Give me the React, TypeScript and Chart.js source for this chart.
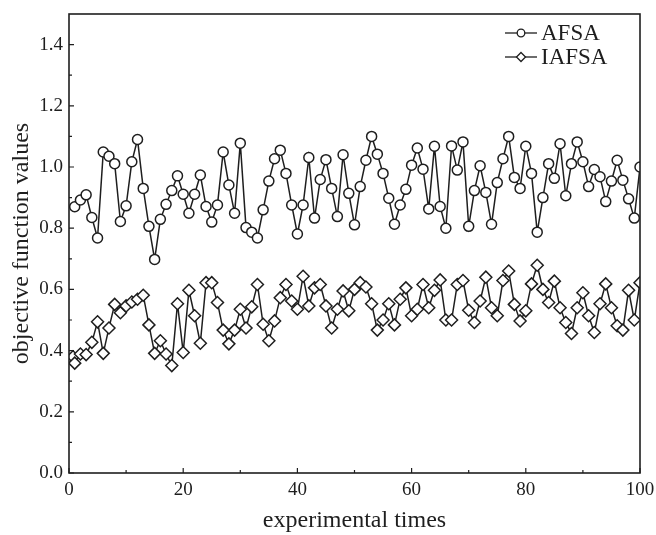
import React, { useEffect, useRef } from 'react';
import { Chart, registerables } from 'chart.js';

Chart.register(...registerables);

// ---------- data ----------
const runs = Array.from({ length: 100 }, (_, i) => i + 1);

const afsaValues = [
  0.870, 0.892, 0.909, 0.835, 0.768, 1.049, 1.035, 1.011, 0.822, 0.873,
  1.017, 1.090, 0.930, 0.806, 0.698, 0.829, 0.878, 0.923, 0.971, 0.911,
  0.849, 0.911, 0.974, 0.871, 0.820, 0.876, 1.049, 0.941, 0.849, 1.078,
  0.802, 0.787, 0.768, 0.860, 0.954, 1.027, 1.055, 0.979, 0.876, 0.781,
  0.876, 1.031, 0.833, 0.959, 1.024, 0.930, 0.838, 1.040, 0.914, 0.811,
  0.936, 1.022, 1.100, 1.042, 0.979, 0.898, 0.813, 0.876, 0.927, 1.006,
  1.062, 0.993, 0.863, 1.068, 0.871, 0.800, 1.069, 0.990, 1.082, 0.806,
  0.923, 1.004, 0.917, 0.813, 0.949, 1.027, 1.100, 0.966, 0.930, 1.068,
  0.979, 0.787, 0.900, 1.011, 0.963, 1.076, 0.906, 1.011, 1.082, 1.017,
  0.936, 0.992, 0.968, 0.887, 0.954, 1.022, 0.957, 0.896, 0.833, 1.000,
];

const iafsaLead = { x: 0.7, y: 0.38 };
const iafsaValues = [
  0.359, 0.389, 0.387, 0.427, 0.494, 0.391, 0.474, 0.551, 0.524, 0.546,
  0.559, 0.568, 0.581, 0.484, 0.391, 0.432, 0.389, 0.351, 0.553, 0.394,
  0.597, 0.514, 0.424, 0.622, 0.622, 0.557, 0.467, 0.422, 0.467, 0.535,
  0.474, 0.543, 0.616, 0.486, 0.432, 0.497, 0.573, 0.616, 0.562, 0.535,
  0.643, 0.546, 0.605, 0.616, 0.546, 0.474, 0.535, 0.595, 0.530, 0.600,
  0.622, 0.608, 0.553, 0.467, 0.500, 0.553, 0.484, 0.568, 0.605, 0.514,
  0.535, 0.616, 0.540, 0.597, 0.631, 0.500, 0.500, 0.616, 0.629, 0.532,
  0.492, 0.562, 0.640, 0.540, 0.514, 0.629, 0.660, 0.551, 0.497, 0.530,
  0.618, 0.679, 0.600, 0.557, 0.627, 0.540, 0.492, 0.456, 0.540, 0.589,
  0.514, 0.459, 0.553, 0.618, 0.540, 0.481, 0.467, 0.597, 0.500, 0.622,
];

const seriesNames = ['AFSA', 'IAFSA'];
const xTicks = [0, 20, 40, 60, 80, 100];
const xMinorTicks = [10, 30, 50, 70, 90];
const yTicks = [0, 0.2, 0.4, 0.6, 0.8, 1.0, 1.2, 1.4];
const yMinorTicks = [0.1, 0.3, 0.5, 0.7, 0.9, 1.1, 1.3];
const xTitle = 'experimental times';
const yTitle = 'objective function values';

// ---------- style ----------
const FONT = '"Liberation Serif", "Times New Roman", serif';
const INK = '#1e1e1e';

const framePlugin = {
  id: 'frameAndLegend',
  afterDraw(chart: any) {
    const { ctx, chartArea: a, scales } = chart;
    const xs = scales.x;
    const ys = scales.y;
    ctx.save();
    // frame
    ctx.strokeStyle = INK;
    ctx.lineWidth = 1.6;
    ctx.strokeRect(a.left, a.top, a.right - a.left, a.bottom - a.top);
    // inward ticks
    ctx.lineWidth = 1.2;
    ctx.beginPath();
    xTicks.forEach((v) => {
      const p = xs.getPixelForValue(v);
      ctx.moveTo(p, a.bottom);
      ctx.lineTo(p, a.bottom - 5);
    });
    xMinorTicks.forEach((v) => {
      const p = xs.getPixelForValue(v);
      ctx.moveTo(p, a.bottom);
      ctx.lineTo(p, a.bottom - 3);
    });
    yTicks.forEach((v) => {
      const p = ys.getPixelForValue(v);
      ctx.moveTo(a.left, p);
      ctx.lineTo(a.left + 5, p);
    });
    yMinorTicks.forEach((v) => {
      const p = ys.getPixelForValue(v);
      ctx.moveTo(a.left, p);
      ctx.lineTo(a.left + 3, p);
    });
    ctx.stroke();

    // legend
    const lx0 = a.right - 135;
    const lx1 = a.right - 103;
    const tx = a.right - 99;
    chart.data.datasets.forEach((ds: any, i: number) => {
      const ly = a.top + 19 + i * 24;
      ctx.strokeStyle = INK;
      ctx.lineWidth = 1.3;
      ctx.beginPath();
      ctx.moveTo(lx0, ly);
      ctx.lineTo(lx1, ly);
      ctx.stroke();
      const mx = (lx0 + lx1) / 2;
      ctx.fillStyle = '#ffffff';
      ctx.beginPath();
      if (ds.pointStyle === 'rectRot') {
        const r = 4.5;
        ctx.moveTo(mx, ly - r);
        ctx.lineTo(mx + r, ly);
        ctx.lineTo(mx, ly + r);
        ctx.lineTo(mx - r, ly);
        ctx.closePath();
      } else {
        ctx.arc(mx, ly, 3.8, 0, Math.PI * 2);
      }
      ctx.fill();
      ctx.stroke();
      ctx.fillStyle = INK;
      ctx.font = `23px ${FONT}`;
      ctx.textAlign = 'left';
      ctx.textBaseline = 'middle';
      ctx.fillText(ds.label, tx, ly + 1);
    });
    ctx.restore();
  },
};

export default function App() {
  const ref = useRef<HTMLCanvasElement | null>(null);

  useEffect(() => {
    if (!ref.current) return;
    const afsaData = runs.map((r, i) => ({ x: r, y: afsaValues[i] }));
    const iafsaData = [iafsaLead, ...runs.map((r, i) => ({ x: r, y: iafsaValues[i] }))];

    const chart = new Chart(ref.current, {
      type: 'line',
      data: {
        datasets: [
          {
            label: seriesNames[0],
            data: afsaData,
            borderColor: INK,
            borderWidth: 1.5,
            tension: 0,
            pointStyle: 'circle',
            pointRadius: 5,
            pointBorderWidth: 1.5,
            pointBorderColor: INK,
            pointBackgroundColor: '#ffffff',
          },
          {
            label: seriesNames[1],
            data: iafsaData,
            borderColor: INK,
            borderWidth: 1.5,
            tension: 0,
            pointStyle: 'rectRot',
            pointRadius: 6,
            pointBorderWidth: 1.5,
            pointBorderColor: INK,
            pointBackgroundColor: '#ffffff',
          },
        ],
      },
      options: {
        responsive: false,
        animation: false,
        layout: { padding: { left: 0, top: 14, right: 16, bottom: 0 } },
        plugins: {
          legend: { display: false },
          tooltip: { enabled: false },
        },
        scales: {
          x: {
            type: 'linear',
            min: 0,
            max: 100,
            afterBuildTicks: (s: any) => {
              s.ticks = xTicks.map((v) => ({ value: v }));
            },
            afterFit: (s: any) => {
              s.height = 62;
              s.paddingRight = 0;
              s.paddingLeft = 0;
            },
            grid: { display: false, drawTicks: false },
            border: { display: false },
            ticks: {
              color: INK,
              font: { family: FONT, size: 19 },
              padding: 6,
              maxRotation: 0,
              autoSkip: false,
              callback: (v: any) => String(v),
            },
            title: {
              display: true,
              text: xTitle,
              color: INK,
              font: { family: FONT, size: 24 },
              padding: { top: 0, bottom: 0 },
            },
          },
          y: {
            type: 'linear',
            min: 0,
            max: 1.5,
            afterBuildTicks: (s: any) => {
              s.ticks = yTicks.map((v) => ({ value: v }));
            },
            afterFit: (s: any) => {
              s.width = 69;
              s.paddingTop = 0;
              s.paddingBottom = 0;
            },
            grid: { display: false, drawTicks: false },
            border: { display: false },
            ticks: {
              color: INK,
              font: { family: FONT, size: 19 },
              padding: 6,
              callback: (v: any) => Number(v).toFixed(1),
            },
            title: {
              display: true,
              text: yTitle,
              color: INK,
              font: { family: FONT, size: 24 },
              padding: { top: 7, bottom: 0 },
            },
          },
        },
      },
      plugins: [framePlugin],
    });
    return () => chart.destroy();
  }, []);

  return (
    <div style={{ position: 'fixed', left: 0, top: 0, width: 656, height: 535, background: '#fff' }}>
      <canvas ref={ref} width={656} height={535} style={{ display: 'block' }} />
    </div>
  );
}
